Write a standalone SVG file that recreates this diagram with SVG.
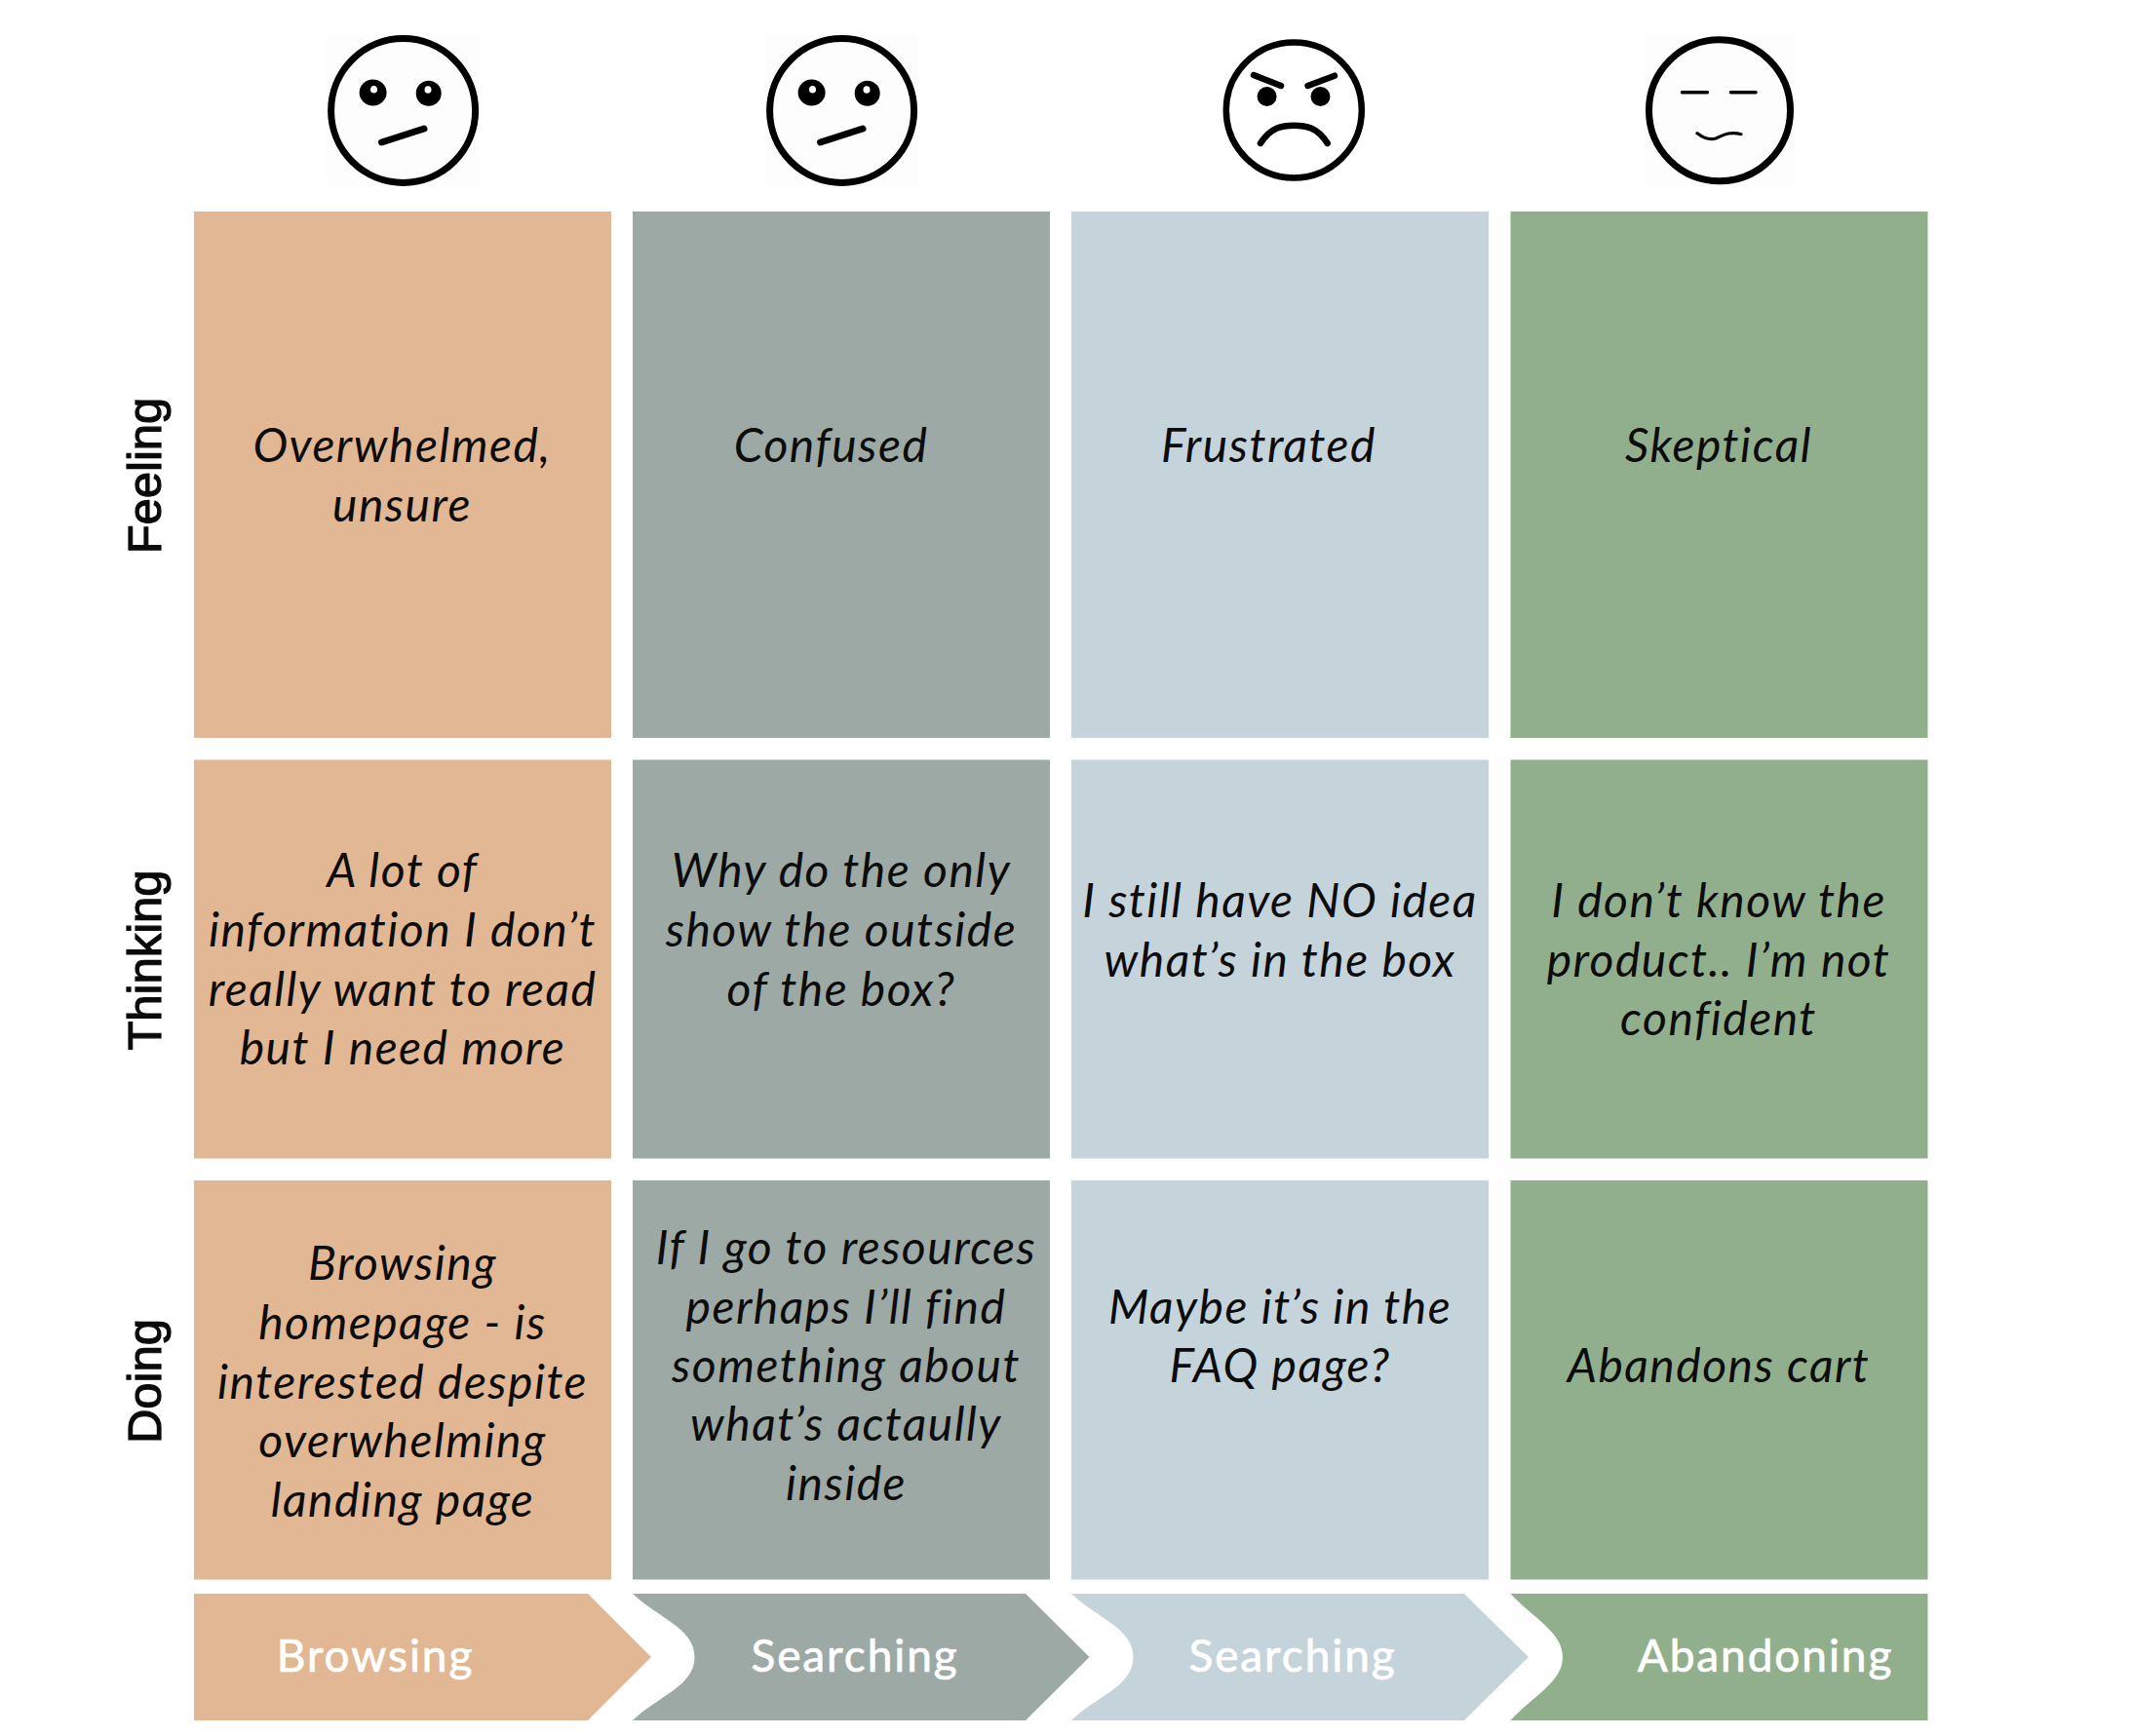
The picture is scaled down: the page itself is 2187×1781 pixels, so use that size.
<svg xmlns="http://www.w3.org/2000/svg" width="2187" height="1781" viewBox="0 0 2187 1781">
<style>
.o{fill:#E2B793}.g{fill:#9CA9A5}.b{fill:#C5D4DB}.n{fill:#92AF8D}
.t{font:italic 400 48px Lato,"Liberation Sans",sans-serif;fill:#0c0c0c;text-anchor:middle;letter-spacing:1.5px}
.r{font:400 49px "Liberation Sans",Arial,sans-serif;fill:#0a0a0a;text-anchor:middle;stroke:#0a0a0a;stroke-width:1.2px}
.s{font:400 46px Lato,"Liberation Sans",sans-serif;fill:#fff;text-anchor:middle;letter-spacing:1.9px;stroke:#fff;stroke-width:.7px}
.f{fill:none;stroke:#000;stroke-linecap:round}
.k{fill:#000}.w{fill:#fff}.h{fill:#fdfdfd}
</style>
<rect width="2187" height="1781" fill="#fff"/>
<g id="face-1"><rect class="h" x="335" y="36" width="157" height="155"/><circle class="f" cx="413.600" cy="113.500" r="74" stroke-width="7" style="fill:#fdfdfd"/><ellipse class="k" cx="382.600" cy="95" rx="14" ry="13.500"/><ellipse class="k" cx="439.700" cy="95.700" rx="13" ry="13"/><ellipse class="w" cx="383.500" cy="91.700" rx="3.500" ry="3.800"/><ellipse class="w" cx="439" cy="92" rx="3.500" ry="3.800"/><path class="f" d="M391.500 146L435 132" stroke-width="7"/></g>
<g id="face-2"><rect class="h" x="785" y="36" width="157" height="155"/><circle class="f" cx="863.600" cy="113.500" r="74" stroke-width="7" style="fill:#fdfdfd"/><ellipse class="k" cx="832.600" cy="95" rx="14" ry="13.500"/><ellipse class="k" cx="889.700" cy="95.700" rx="13" ry="13"/><ellipse class="w" cx="833.500" cy="91.700" rx="3.500" ry="3.800"/><ellipse class="w" cx="889" cy="92" rx="3.500" ry="3.800"/><path class="f" d="M841.500 146L885 132" stroke-width="7"/></g>
<g id="face-3"><circle class="f" cx="1327.300" cy="113" r="69.500" stroke-width="6.500" style="fill:#fff"/><path class="f" d="M1286 77L1314 88M1341.600 88L1369 77.700" stroke-width="6.500"/><ellipse class="k" cx="1299.600" cy="99" rx="10" ry="10"/><ellipse class="k" cx="1354.500" cy="99" rx="10" ry="10"/><path class="f" d="M1293 147C1304 130 1316 128.700 1327.300 128.700C1339 128.700 1351 130 1361.700 147" stroke-width="6.500"/></g>
<g id="face-4"><rect class="h" x="1686" y="36" width="156" height="155"/><circle class="f" cx="1764" cy="113.300" r="72.500" stroke-width="7" style="fill:#fdfdfd"/><path class="f" d="M1725.500 94.700H1751.400M1775.500 94.700H1801" stroke-width="3.500" stroke-linecap="butt"/><path class="f" d="M1741 136.700C1748 142 1755 143.500 1760 142C1766 140 1772 134 1786 137.700" stroke-width="3.200"/></g>
<g id="row-labels"><text class="r" transform="translate(165 488) rotate(-90)">Feeling</text><text class="r" transform="translate(165 985) rotate(-90)">Thinking</text><text class="r" transform="translate(165 1417) rotate(-90)">Doing</text></g>
<g id="cell-feeling-1"><rect class="o" x="199" y="217" width="428" height="540"/><text class="t" x="412.500" y="473.500">Overwhelmed,</text><text class="t" x="412.500" y="534.500">unsure</text></g>
<g id="cell-feeling-2"><rect class="g" x="649" y="217" width="428" height="540"/><text class="t" x="852.500" y="473.500">Confused</text></g>
<g id="cell-feeling-3"><rect class="b" x="1099" y="217" width="428" height="540"/><text class="t" x="1301.500" y="473.500">Frustrated</text></g>
<g id="cell-feeling-4"><rect class="n" x="1549.500" y="217" width="428" height="540"/><text class="t" x="1763" y="473.500">Skeptical</text></g>
<g id="cell-thinking-1"><rect class="o" x="199" y="779.500" width="428" height="409"/><text class="t" x="413" y="910">A lot of</text><text class="t" x="413" y="971">information I don’t</text><text class="t" x="413" y="1032">really want to read</text><text class="t" x="413" y="1092">but I need more</text></g>
<g id="cell-thinking-2"><rect class="g" x="649" y="779.500" width="428" height="409"/><text class="t" x="863" y="910">Why do the only</text><text class="t" x="863" y="971">show the outside</text><text class="t" x="863" y="1032">of the box?</text></g>
<g id="cell-thinking-3"><rect class="b" x="1099" y="779.500" width="428" height="409"/><text class="t" x="1313" y="941">I still have NO idea</text><text class="t" x="1313" y="1002">what’s in the box</text></g>
<g id="cell-thinking-4"><rect class="n" x="1549.500" y="779.500" width="428" height="409"/><text class="t" x="1763" y="941">I don’t know the</text><text class="t" x="1763" y="1002">product.. I’m not</text><text class="t" x="1763" y="1062">confident</text></g>
<g id="cell-doing-1"><rect class="o" x="199" y="1211" width="428" height="409.500"/><text class="t" x="413" y="1313">Browsing</text><text class="t" x="413" y="1374">homepage - is</text><text class="t" x="413" y="1435">interested despite</text><text class="t" x="413" y="1495">overwhelming</text><text class="t" x="413" y="1556">landing page</text></g>
<g id="cell-doing-2"><rect class="g" x="649" y="1211" width="428" height="409.500"/><text class="t" x="868" y="1297">If I go to resources</text><text class="t" x="868" y="1358">perhaps I’ll find</text><text class="t" x="868" y="1418">something about</text><text class="t" x="868" y="1478">what’s actaully</text><text class="t" x="868" y="1539">inside</text></g>
<g id="cell-doing-3"><rect class="b" x="1099" y="1211" width="428" height="409.500"/><text class="t" x="1313" y="1358">Maybe it’s in the</text><text class="t" x="1313" y="1418">FAQ page?</text></g>
<g id="cell-doing-4"><rect class="n" x="1549.500" y="1211" width="428" height="409.500"/><text class="t" x="1763" y="1418">Abandons cart</text></g>
<g id="stage-1"><path class="o" d="M199 1635H603L668 1700L603 1765H199Z"/><text class="s" x="385" y="1715">Browsing</text></g>
<g id="stage-2"><path class="g" d="M649 1635H1052L1117.500 1700L1052 1765H649C675 1740 712.500 1730 712.500 1700C712.500 1670 675 1660 649 1635Z"/><text class="s" x="877" y="1715">Searching</text></g>
<g id="stage-3"><path class="b" d="M1099 1635H1502L1568 1700L1502 1765H1099C1125 1740 1162.500 1730 1162.500 1700C1162.500 1670 1125 1660 1099 1635Z"/><text class="s" x="1326" y="1715">Searching</text></g>
<g id="stage-4"><path class="n" d="M1549.500 1635H1977.500V1765H1549.500C1575 1738 1603 1725 1603 1700C1603 1675 1575 1662 1549.500 1635Z"/><text class="s" x="1811" y="1715">Abandoning</text></g>
</svg>
